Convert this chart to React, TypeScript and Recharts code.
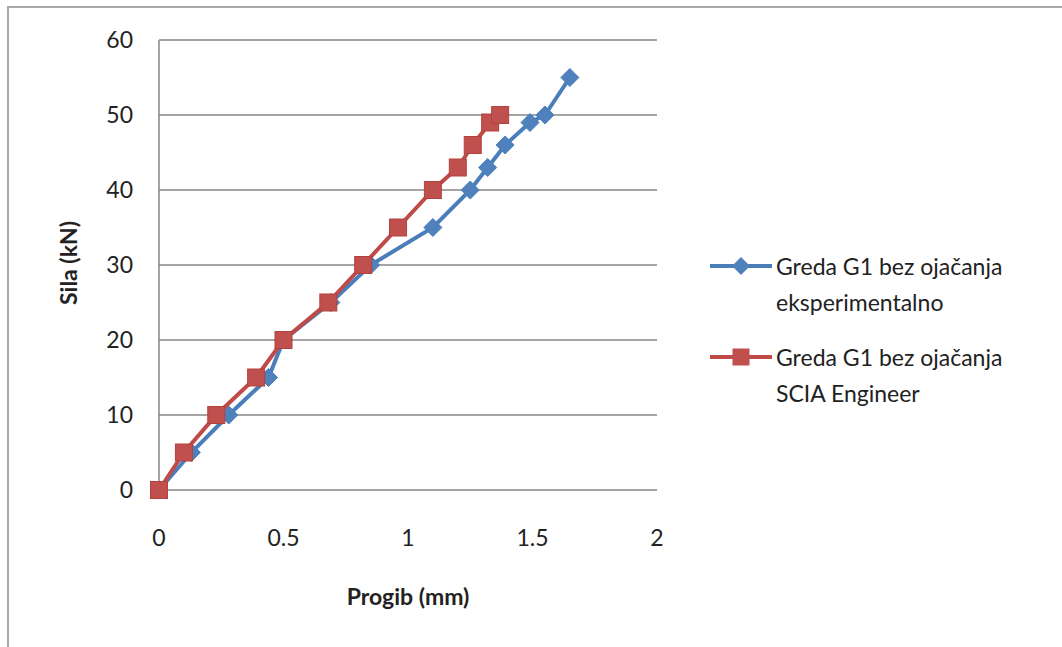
import React from "react";
import {
  ScatterChart,
  Scatter,
  XAxis,
  YAxis,
  CartesianGrid,
} from "recharts";

// Progib (mm) / Sila (kN)
const expProgib = [0, 0.13, 0.28, 0.44, 0.5, 0.69, 0.85, 1.1, 1.25, 1.32, 1.39, 1.49, 1.55, 1.65];
const expSila = [0, 5, 10, 15, 20, 25, 30, 35, 40, 43, 46, 49, 50, 55];
const sciaProgib = [0, 0.1, 0.23, 0.39, 0.5, 0.68, 0.82, 0.96, 1.1, 1.2, 1.26, 1.33, 1.37];
const sciaSila = [0, 5, 10, 15, 20, 25, 30, 35, 40, 43, 46, 49, 50];
const xTicks = [0, 0.5, 1, 1.5, 2];
const yTicks = [0, 10, 20, 30, 40, 50, 60];

const seriesNames = [
  ["Greda G1 bez ojačanja", "eksperimentalno"],
  ["Greda G1 bez ojačanja", "SCIA Engineer"],
];

const expData = expProgib.map((x, i) => ({ x, y: expSila[i] }));
const sciaData = sciaProgib.map((x, i) => ({ x, y: sciaSila[i] }));

const BLUE = "#4A7EBB";
const BLUE_FILL = "#4F81BD";
const RED = "#BE4B48";
const RED_FILL = "#C0504D";
const FONT = "Lato, 'Noto Sans', sans-serif";

const Diamond = (props: any) => {
  const { cx, cy } = props;
  const r = 9;
  return (
    <polygon
      points={`${cx},${cy - r} ${cx + r},${cy} ${cx},${cy + r} ${cx - r},${cy}`}
      fill={BLUE_FILL}
      stroke={BLUE}
      strokeWidth={1}
    />
  );
};

const Square = (props: any) => {
  const { cx, cy } = props;
  const s = 17;
  return (
    <rect
      x={cx - s / 2}
      y={cy - s / 2}
      width={s}
      height={s}
      fill={RED_FILL}
      stroke="#B3423F"
      strokeWidth={1}
    />
  );
};

const LegendBox = () => (
  <div
    style={{
      position: "absolute",
      left: 708,
      top: 248,
      fontFamily: FONT,
      fontSize: 23,
      color: "#222",
      lineHeight: "36px",
    }}
  >
    {seriesNames.map((lines, i) => (
      <div key={i} style={{ display: "flex", alignItems: "flex-start", marginBottom: 19 }}>
        <svg width={66} height={36} style={{ flexShrink: 0 }}>
          <line x1={2} y1={18} x2={64} y2={18} stroke={i === 0 ? BLUE : RED} strokeWidth={4} />
          {i === 0 ? (
            <polygon points="33,9 42,18 33,27 24,18" fill={BLUE_FILL} />
          ) : (
            <rect x={24.5} y={9.5} width={17} height={17} fill={RED_FILL} />
          )}
        </svg>
        <div style={{ marginLeft: 2 }}>
          {lines.map((t) => (
            <div key={t}>{t}</div>
          ))}
        </div>
      </div>
    ))}
  </div>
);

const YTitle = (props: any) => {
  const { viewBox } = props;
  const cx = 68;
  const cy = viewBox.y + viewBox.height / 2 - 2;
  return (
    <text
      x={cx}
      y={cy}
      transform={`rotate(-90, ${cx}, ${cy})`}
      textAnchor="middle"
      dominantBaseline="central"
      fontFamily={FONT}
      fontWeight="bold"
      fontSize={23}
      fill="#222"
    >
      Sila (kN)
    </text>
  );
};

export default function App() {
  return (
    <div
      style={{
        position: "absolute",
        left: 0,
        top: 0,
        width: 1062,
        height: 647,
        overflow: "hidden",
        background: "#fff",
      }}
    >
      <div style={{ position: "absolute", left: 0, top: 0 }}>
        <ScatterChart width={1062} height={647} margin={{ top: 40, right: 405, bottom: 0, left: 0 }}>
          <CartesianGrid horizontal vertical={false} stroke="#878787" strokeWidth={1.5} />
          <XAxis
            type="number"
            dataKey="x"
            domain={[0, 2]}
            ticks={xTicks}
            height={157}
            axisLine={false}
            tickLine={false}
            tickSize={0}
            tickMargin={40}
            tick={{ fontFamily: FONT, fontSize: 23, fill: "#222" }}
            label={{
              value: "Progib (mm)",
              position: "insideBottom",
              offset: 42,
              fontFamily: FONT,
              fontWeight: "bold",
              fontSize: 23,
              fill: "#222",
            }}
          />
          <YAxis
            type="number"
            dataKey="y"
            domain={[0, 60]}
            ticks={yTicks}
            width={159}
            axisLine={{ stroke: "#878787", strokeWidth: 1.5 }}
            tickLine={false}
            tickSize={0}
            tickMargin={26}
            tick={{ fontFamily: FONT, fontSize: 23, fill: "#222" }}
            label={{ content: YTitle }}
          />
          <Scatter
            name="Greda G1 bez ojačanja eksperimentalno"
            data={expData}
            line={{ stroke: BLUE, strokeWidth: 4 }}
            shape={Diamond}
            isAnimationActive={false}
          />
          <Scatter
            name="Greda G1 bez ojačanja SCIA Engineer"
            data={sciaData}
            line={{ stroke: RED, strokeWidth: 4 }}
            shape={Square}
            isAnimationActive={false}
          />
        </ScatterChart>
      </div>
      <LegendBox />
      <svg
        width={1062}
        height={647}
        style={{ position: "absolute", left: 0, top: 0, pointerEvents: "none" }}
      >
        <line x1={7} y1={7} x2={1062} y2={7} stroke="#a8a8a8" strokeWidth={2} />
        <line x1={8} y1={7} x2={8} y2={647} stroke="#a8a8a8" strokeWidth={2} />
      </svg>
    </div>
  );
}
